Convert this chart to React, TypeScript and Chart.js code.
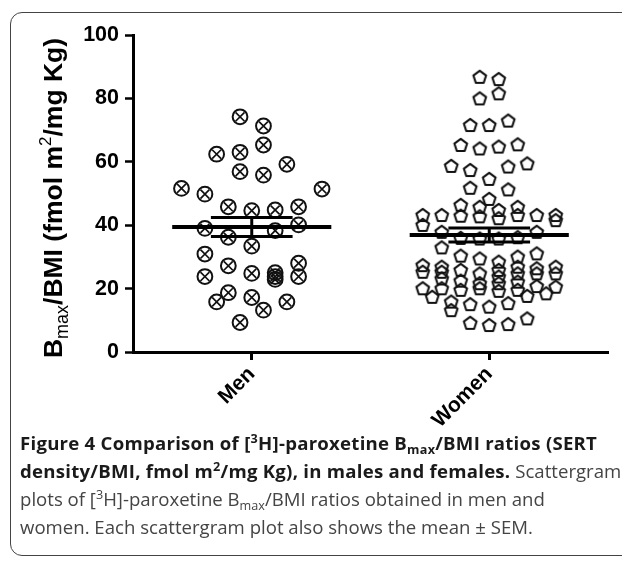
import { useEffect, useRef } from "react";
import { Chart, registerables } from "chart.js";

Chart.register(...registerables);

const groups = ["Men", "Women"];
const yTicks = [0, 20, 40, 60, 80, 100];

const menValues = [
  74.2, 71.3, 65.3, 62.4, 63.0, 59.2, 56.9, 55.8, 51.6, 51.4, 49.8, 45.8,
  44.6, 44.8, 45.8, 39.0, 40.1, 36.2, 38.3, 33.4, 30.9, 28.0, 27.2, 23.8,
  24.8, 25.0, 23.8, 22.9, 23.8, 18.7, 15.8, 17.2, 13.2, 15.8, 9.3,
];
const menSlots = [
  -1, 1, 1, -3, -1, 3, -1, 1, -6, 6, -4, -2,
  0, 2, 4, -4, 4, -2, 2, 0, -4, 4, -2, -4,
  0, 2, 2, 2, 4, -2, -3, 0, 1, 3, -1,
];

const womenValues = [
  86.8, 86.1, 80.0, 81.6, 71.6, 71.6, 73.0, 65.3, 64.2, 64.8, 65.5, 58.7,
  57.4, 58.5, 59.5, 54.6, 51.8, 51.3, 48.3,
  46.4, 45.8, 44.8, 45.8,
  43.2, 43.2, 43.0, 42.8, 42.2, 43.2, 43.2, 43.2, 40.1, 41.6,
  37.9, 37.9, 36.0, 35.8, 35.8, 36.2, 33.0,
  30.4, 29.5, 28.5, 30.1, 31.1,
  27.4, 25.3, 20.1, 26.9, 25.3, 23.2, 20.1, 25.9, 22.5, 19.6,
  24.8, 21.7, 20.1, 25.9, 23.8, 21.7, 19.3, 26.9, 24.8, 22.2, 19.6,
  26.4, 24.8, 20.8, 26.9, 24.8, 20.6,
  17.4, 17.7, 18.5, 15.9, 13.2, 15.1, 14.3, 15.4, 9.2, 8.5, 8.8, 10.6,
];
const womenSlots = [
  -1, 1, -1, 1, -2, 0, 2, -3, -1, 1, 3, -4,
  -2, 2, 4, 0, -2, 2, 0,
  -3, -1, 1, 3,
  -7, -5, -3, -1, 1, 3, 5, 7, -7, 7,
  -5, 5, -3, -1, 1, 3, -5,
  -3, -1, 1, 3, 5,
  -7, -7, -7, -5, -5, -5, -5, -3, -3, -3,
  -1, -1, -1, 1, 1, 1, 1, 3, 3, 3, 3,
  5, 5, 5, 7, 7, 7,
  -6, 4, 6, -4, -4, -2, 0, 2, -2, 0, 2, 4,
];

const means = [39.4, 36.9];
const sems = [3.0, 2.2];

const MEN_SLOT = 0.0493;
const WOMEN_SLOT = 0.04;
const MEAN_HALF = 0.335;
const CAP_HALF = 0.172;

const AXIS_FONT = "'Liberation Sans', Arial, sans-serif";

function pentagon(): HTMLCanvasElement {
  const c = document.createElement("canvas");
  c.width = 18;
  c.height = 18;
  const g = c.getContext("2d")!;
  g.strokeStyle = "#111";
  g.lineWidth = 2.1;
  g.lineJoin = "round";
  g.beginPath();
  for (let i = 0; i < 5; i++) {
    const a = -Math.PI / 2 + (i * 2 * Math.PI) / 5;
    const px = 9 + Math.cos(a) * 6.7;
    const py = 9.6 + Math.sin(a) * 6.7;
    if (i === 0) g.moveTo(px, py);
    else g.lineTo(px, py);
  }
  g.closePath();
  g.stroke();
  return c;
}

function segment(x1: number, y1: number, x2: number, y2: number, width: number) {
  return {
    data: [
      { x: x1, y: y1 },
      { x: x2, y: y2 },
    ],
    showLine: true,
    borderColor: "#000",
    borderWidth: width,
    borderCapStyle: "butt" as const,
    pointRadius: 0,
    order: 0,
  };
}

const yTitle = {
  id: "yTitle",
  afterDraw(chart: Chart) {
    const { ctx } = chart;
    const parts = [
      { t: "B", f: `bold 26.5px ${AXIS_FONT}`, dy: 0 },
      { t: "max", f: `18px ${AXIS_FONT}`, dy: 6 },
      { t: "/BMI (fmol m", f: `bold 26.5px ${AXIS_FONT}`, dy: 0 },
      { t: "2", f: `17px ${AXIS_FONT}`, dy: -11 },
      { t: "/mg Kg)", f: `bold 26.5px ${AXIS_FONT}`, dy: 0 },
    ];
    ctx.save();
    let total = 0;
    for (const p of parts) {
      ctx.font = p.f;
      total += ctx.measureText(p.t).width;
    }
    ctx.translate(62, 198 + total / 2);
    ctx.rotate(-Math.PI / 2);
    ctx.fillStyle = "#000";
    ctx.textBaseline = "alphabetic";
    let x = 0;
    for (const p of parts) {
      ctx.font = p.f;
      ctx.fillText(p.t, x, p.dy);
      x += ctx.measureText(p.t).width;
    }
    ctx.restore();
  },
};

function Scattergram() {
  const canvasRef = useRef<HTMLCanvasElement>(null);

  useEffect(() => {
    const canvas = canvasRef.current;
    if (!canvas) return;

    const bars = means.flatMap((m, i) => {
      const c = i + 1;
      const s = sems[i];
      return [
        segment(c - MEAN_HALF, m, c + MEAN_HALF, m, 4),
        segment(c - CAP_HALF, m + s, c + CAP_HALF, m + s, 3),
        segment(c - CAP_HALF, m - s, c + CAP_HALF, m - s, 3),
        segment(c, m - s, c, m + s, 3),
      ];
    });

    const menPoints = menValues.map((v, i) => ({ x: 1 + menSlots[i] * MEN_SLOT, y: v }));
    const womenPoints = womenValues.map((v, i) => ({ x: 2 + womenSlots[i] * WOMEN_SLOT, y: v }));

    const chart = new Chart(canvas, {
      type: "scatter",
      data: {
        datasets: [
          ...bars,
          {
            data: menPoints,
            pointStyle: "crossRot",
            pointRadius: 6.3,
            borderColor: "#111",
            borderWidth: 1.7,
            order: 1,
          },
          {
            data: menPoints,
            pointStyle: "circle",
            pointRadius: 7.4,
            backgroundColor: "rgba(0,0,0,0)",
            borderColor: "#111",
            borderWidth: 2,
            order: 2,
          },
          {
            data: womenPoints,
            pointStyle: pentagon(),
            pointRadius: 7,
            order: 2,
          },
        ] as any,
      },
      options: {
        animation: false,
        responsive: true,
        maintainAspectRatio: false,
        layout: { padding: { left: 0, top: 35, right: 14, bottom: 0 } },
        plugins: { legend: { display: false }, tooltip: { enabled: false } },
        scales: {
          x: {
            type: "linear",
            min: 0.5,
            max: groups.length + 0.5,
            afterBuildTicks: (scale) => {
              scale.ticks = groups.map((_, i) => ({ value: i + 1 }));
            },
            afterFit: (scale) => {
              scale.height = 88;
            },
            ticks: {
              minRotation: 45,
              maxRotation: 45,
              color: "#000",
              padding: 2,
              font: { family: AXIS_FONT, size: 21, weight: "bold" },
              callback: (v) => groups[Number(v) - 1] ?? "",
            },
            grid: {
              drawOnChartArea: false,
              drawTicks: true,
              tickLength: 8,
              tickWidth: 3,
              color: "#000",
            },
            border: { display: true, width: 3, color: "#000" },
          },
          y: {
            min: 0,
            max: 100,
            afterBuildTicks: (scale) => {
              scale.ticks = yTicks.map((v) => ({ value: v }));
            },
            afterFit: (scale) => {
              scale.width = 133;
            },
            ticks: {
              color: "#000",
              padding: 6,
              font: { family: AXIS_FONT, size: 21.5, weight: "bold" },
            },
            grid: {
              drawOnChartArea: false,
              drawTicks: true,
              tickLength: 8,
              tickWidth: 2.5,
              color: "#000",
            },
            border: { display: true, width: 3, color: "#000" },
          },
        },
      },
      plugins: [yTitle],
    });

    return () => chart.destroy();
  }, []);

  return (
    <div style={{ position: "absolute", left: 0, top: 0, width: 622, height: 440 }}>
      <canvas ref={canvasRef} />
    </div>
  );
}

const sup = { fontSize: "0.68em", position: "relative" as const, top: "-0.55em" };
const sub = { fontSize: "0.68em", position: "relative" as const, top: "0.3em" };

export default function App() {
  return (
    <div
      style={{
        position: "absolute",
        left: 0,
        top: 0,
        width: 622,
        height: 565,
        overflow: "hidden",
        background: "#fff",
      }}
    >
      <div
        style={{
          position: "absolute",
          left: 10,
          top: 12,
          width: 700,
          height: 542,
          border: "1.3px solid #444",
          borderRadius: 12,
        }}
      />
      <Scattergram />
      <div
        style={{
          position: "absolute",
          left: 20,
          top: 430,
          fontFamily: "'Open Sans', 'Noto Sans', sans-serif",
          fontSize: 18.6,
          lineHeight: "26px",
          color: "#444",
          whiteSpace: "nowrap",
        }}
      >
        <b style={{ color: "#1a1a1a", letterSpacing: "0.25px" }}>
          Figure 4 Comparison of [<span style={sup}>3</span>H]-paroxetine B<span style={sub}>max</span>/BMI
          ratios (SERT
          <br />
          density/BMI, fmol m<span style={sup}>2</span>/mg Kg), in males and females.
        </b>{" "}
        Scattergram
        <br />
        plots of [<span style={sup}>3</span>H]-paroxetine B<span style={sub}>max</span>/BMI ratios obtained in
        men and
        <br />
        women. Each scattergram plot also shows the mean ± SEM.
      </div>
    </div>
  );
}
